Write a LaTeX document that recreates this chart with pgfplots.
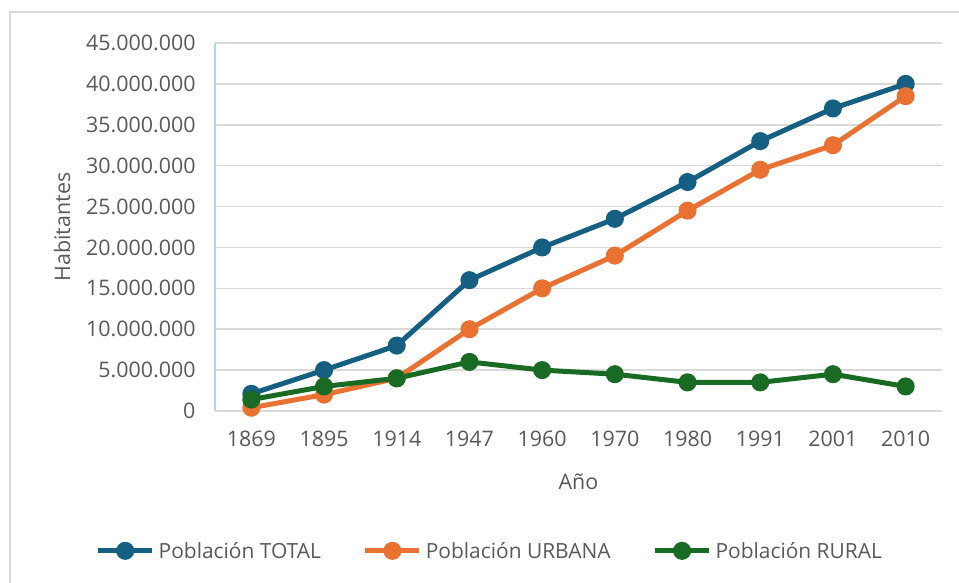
\documentclass[border=0pt]{standalone}
\usepackage{pgfplots}
\pgfplotsset{compat=1.18}
\usepackage{fontspec}
\setmainfont{Open Sans}
\definecolor{ctotal}{HTML}{156082}
\definecolor{curb}{HTML}{E97132}
\definecolor{crur}{HTML}{196B24}
\definecolor{txt}{HTML}{595959}
\definecolor{gridc}{HTML}{D9D9D9}
\definecolor{axblue}{HTML}{A6D8F0}
\pgfplotstableread{
x total urbana rural
0 2100000 400000 1400000
1 5000000 2000000 3000000
2 8000000 4000000 4000000
3 16000000 10000000 6000000
4 20000000 15000000 5000000
5 23500000 19000000 4500000
6 28000000 24500000 3500000
7 33000000 29500000 3500000
8 37000000 32500000 4500000
9 40000000 38500000 3000000
}\datatab
\begin{document}
\begin{tikzpicture}[x=1bp,y=1bp]
\path[use as bounding box] (0,0) rectangle (959,583);
\draw[gridc, line width=1.5bp] (10,-5) -- (10,571) -- (965,571);
\begin{axis}[
  at={(215bp,172bp)}, anchor=south west,
  scale only axis, width=727bp, height=368bp,
  xmin=-0.5, xmax=9.5, ymin=0, ymax=45000000,
  xtick={0,...,9},
  xticklabels={1869,1895,1914,1947,1960,1970,1980,1991,2001,2010},
  ytick={0,5000000,10000000,15000000,20000000,25000000,30000000,35000000,40000000,45000000},
  scaled y ticks=false,
  /pgf/number format/fixed,
  /pgf/number format/1000 sep={.},
  /pgf/number format/assume math mode=true,
  ymajorgrids,
  grid style={gridc, line width=1.5bp},
  axis line style={draw=none},
  tick style={draw=none},
  major tick length=0pt,
  ticklabel style={font=\fontsize{21.5}{25}\selectfont, text=txt},
  xticklabel style={yshift=-16bp},
  yticklabel style={xshift=-16bp},
  xlabel={Año}, ylabel={Habitantes},
  label style={font=\fontsize{21.5}{25}\selectfont, text=txt},
  xlabel style={at={(rel axis cs:0.5,0)}, anchor=center, yshift=-71bp},
  ylabel style={at={(rel axis cs:0,0.5)}, anchor=center, yshift=153bp},
  clip=false,
  legend columns=3,
  legend style={at={(0.378,-0.380)}, anchor=center, draw=none, fill=none,
    font=\fontsize{21}{25}\selectfont, text=txt,
    /tikz/every odd column/.append style={column sep=2bp},
    /tikz/every even column/.append style={column sep=40bp}},
  legend image code/.code={\draw[mark repeat=2,mark phase=2,#1] plot coordinates {(0bp,0bp) (27bp,0bp) (54bp,0bp)};},
  every axis plot/.append style={line width=5bp, mark=*, mark size=6.5bp, mark options={solid}},
]
\draw[axblue, line width=1.2bp] (rel axis cs:0,0) -- (rel axis cs:0,1);
\draw[gridc, line width=1.5bp] (rel axis cs:0,0) -- (rel axis cs:1,0);
\addplot[ctotal] table[x=x, y=total] {\datatab};
\addlegendentry{Población TOTAL}
\addplot[curb] table[x=x, y=urbana] {\datatab};
\addlegendentry{Población URBANA}
\addplot[crur] table[x=x, y=rural] {\datatab};
\addlegendentry{Población RURAL}
\end{axis}
\end{tikzpicture}
\end{document}
